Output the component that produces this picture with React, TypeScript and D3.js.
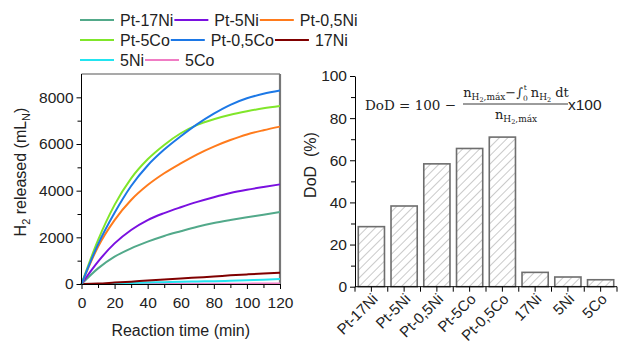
import React, { useEffect, useRef } from 'react';
import * as d3 from 'd3';

// Left panel: H2 released vs reaction time
const times = [0, 10, 20, 30, 40, 50, 60, 70, 80, 90, 100, 110, 120];
const seriesNames = ['Pt-17Ni', 'Pt-5Ni', 'Pt-0,5Ni', 'Pt-5Co', 'Pt-0,5Co', '17Ni', '5Ni', '5Co'];
const seriesColors = ['#52a98a', '#7a10e0', '#ff7b1c', '#80e62a', '#1c78e6', '#800000', '#22e4f0', '#f07cc4'];
const pt17Ni = [0, 670, 1170, 1530, 1815, 2060, 2260, 2450, 2610, 2740, 2860, 2970, 3090];
const pt5Ni = [0, 960, 1740, 2315, 2740, 3040, 3290, 3520, 3720, 3900, 4040, 4160, 4270];
const pt05Ni = [0, 1600, 2740, 3600, 4240, 4745, 5170, 5560, 5890, 6170, 6410, 6590, 6745];
const pt5Co = [0, 1880, 3390, 4530, 5345, 5960, 6460, 6820, 7060, 7250, 7400, 7530, 7630];
const pt05Co = [0, 1700, 3050, 4200, 5080, 5760, 6330, 6850, 7300, 7680, 7960, 8150, 8290];
const ni17 = [0, 20, 60, 100, 150, 190, 240, 280, 320, 370, 410, 450, 485];
const ni5 = [0, 0, 10, 40, 60, 80, 100, 110, 120, 140, 160, 180, 210];
const co5 = [0, 0, 0, 0, 5, 5, 10, 10, 10, 15, 15, 20, 25];
const seriesValues = [pt17Ni, pt5Ni, pt05Ni, pt5Co, pt05Co, ni17, ni5, co5];
const legendRows = [[0, 1, 2], [3, 4, 5], [6, 7]];

// Right panel: depth of discharge
const dodCategories = ['Pt-17Ni', 'Pt-5Ni', 'Pt-0,5Ni', 'Pt-5Co', 'Pt-0,5Co', '17Ni', '5Ni', '5Co'];
const dodValues = [28.5, 38.3, 58.3, 65.6, 71.0, 6.8, 4.6, 3.3];

const FONT = 'Liberation Sans, Arial, sans-serif';
const SERIF = 'DejaVu Serif, serif';

export default function App() {
  const svgRef = useRef<SVGSVGElement>(null);

  useEffect(() => {
    const svg = d3.select(svgRef.current);
    svg.selectAll('*').remove();

    // ---------- legend ----------
    const lg = svg.append('g');
    legendRows.forEach((row, ri) => {
      let cx = 80;
      const cy = 20 + ri * 20;
      row.forEach(i => {
        lg.append('line').attr('x1', cx).attr('x2', cx + 34).attr('y1', cy).attr('y2', cy)
          .attr('stroke', seriesColors[i]).attr('stroke-width', 2);
        const t = lg.append('text').attr('x', cx + 40).attr('y', cy + 5.5)
          .attr('font-family', FONT).attr('font-size', 16).attr('fill', '#222').text(seriesNames[i]);
        cx = cx + 40 + (t.node() as SVGTextElement).getComputedTextLength() + 1;
      });
    });

    // ---------- left plot ----------
    const L = { left: 81.5, right: 280, top: 74, bottom: 284 };
    const x = d3.scaleLinear().domain([0, 120]).range([L.left, L.right]);
    const y = d3.scaleLinear().domain([0, 9000]).range([L.bottom, L.top]);

    const gl = svg.append('g');
    // frame (top/right grey)
    gl.append('line').attr('x1', L.left).attr('x2', L.right).attr('y1', L.top).attr('y2', L.top)
      .attr('stroke', '#555').attr('stroke-width', 1.2);
    gl.append('line').attr('x1', L.right).attr('x2', L.right).attr('y1', L.top).attr('y2', L.bottom)
      .attr('stroke', '#777').attr('stroke-width', 2.2);

    const line = d3.line<number>().x((d, i) => x(times[i])).y(d => y(d)).curve(d3.curveMonotoneX);
    const order = [7, 6, 5, 0, 1, 2, 3, 4];
    order.forEach(i => {
      gl.append('path').datum(seriesValues[i]).attr('fill', 'none')
        .attr('stroke', seriesColors[i]).attr('stroke-width', 2).attr('d', line);
    });

    // axes
    const xAxis = gl.append('g').attr('transform', `translate(0,${L.bottom})`)
      .call(d3.axisBottom(x).tickValues(d3.range(0, 121, 20)).tickSize(5).tickSizeOuter(0));
    gl.append('g').attr('transform', `translate(0,${L.bottom})`)
      .call(d3.axisBottom(x).tickValues(d3.range(10, 120, 20)).tickSize(4).tickFormat(() => '').tickSizeOuter(0))
      .select('.domain').remove();
    const yAxis = gl.append('g').attr('transform', `translate(${L.left},0)`)
      .call(d3.axisLeft(y).tickValues(d3.range(0, 8001, 2000)).tickFormat(d3.format('d')).tickSize(5).tickSizeOuter(0));
    gl.append('g').attr('transform', `translate(${L.left},0)`)
      .call(d3.axisLeft(y).tickValues(d3.range(1000, 9000, 2000)).tickSize(4).tickFormat(() => '').tickSizeOuter(0))
      .select('.domain').remove();
    yAxis.select('.domain').attr('d', `M0,${L.bottom}V${L.top}`);
    [xAxis, yAxis].forEach(a => a.selectAll('text').attr('font-family', FONT).attr('font-size', 15.5).attr('fill', '#222'));
    xAxis.selectAll('text').attr('dy', '1.05em');

    gl.append('text').attr('x', (L.left + L.right) / 2).attr('y', 336).attr('text-anchor', 'middle')
      .attr('font-family', FONT).attr('font-size', 16).attr('fill', '#222').text('Reaction time (min)');

    const yl = gl.append('text').attr('transform', 'translate(26,172) rotate(-90)').attr('text-anchor', 'middle')
      .attr('font-family', FONT).attr('font-size', 16).attr('fill', '#222');
    yl.append('tspan').text('H');
    yl.append('tspan').attr('font-size', 11).attr('dy', 4).text('2');
    yl.append('tspan').attr('dy', -4).text(' released (mL');
    yl.append('tspan').attr('font-size', 11).attr('dy', 4).text('N');
    yl.append('tspan').attr('dy', -4).text(')');

    // ---------- right plot ----------
    const R = { left: 355, right: 617, top: 76, bottom: 286.7 };
    const xb = d3.scaleBand().domain(dodCategories).range([R.left, R.right]).paddingInner(0.2).paddingOuter(0.1);
    const yb = d3.scaleLinear().domain([0, 100]).range([R.bottom, R.top]);

    const defs = svg.append('defs');
    const pat = defs.append('pattern').attr('id', 'hatch').attr('patternUnits', 'userSpaceOnUse')
      .attr('width', 6).attr('height', 6).attr('patternTransform', 'rotate(45)');
    pat.append('rect').attr('width', 6).attr('height', 6).attr('fill', '#fff');
    pat.append('line').attr('x1', 0).attr('x2', 0).attr('y1', 0).attr('y2', 6)
      .attr('stroke', '#8a8a8a').attr('stroke-width', 0.9);

    const gr = svg.append('g');
    gr.selectAll('rect.bar').data(dodValues).join('rect').attr('class', 'bar')
      .attr('x', (d, i) => xb(dodCategories[i])!).attr('width', xb.bandwidth())
      .attr('y', d => yb(d)).attr('height', d => yb(0) - yb(d))
      .attr('fill', 'url(#hatch)').attr('stroke', '#6e6e6e').attr('stroke-width', 1.6);

    const yr = gr.append('g').attr('transform', `translate(${R.left},0)`)
      .call(d3.axisLeft(yb).tickValues(d3.range(0, 101, 20)).tickSize(5).tickSizeOuter(0));
    gr.append('g').attr('transform', `translate(${R.left},0)`)
      .call(d3.axisLeft(yb).tickValues(d3.range(10, 100, 20)).tickSize(4).tickFormat(() => '').tickSizeOuter(0))
      .select('.domain').remove();
    yr.selectAll('text').attr('font-family', FONT).attr('font-size', 15.5).attr('fill', '#222');

    // x axis: ticks at band edges and centres
    const half = xb.step() / 2;
    const tickPos = d3.range(0, dodCategories.length * 2 + 1).map(k => R.left + k * half);
    const xr = gr.append('g');
    xr.append('line').attr('x1', R.left).attr('x2', R.right).attr('y1', R.bottom).attr('y2', R.bottom)
      .attr('stroke', '#000');
    xr.selectAll('line.tk').data(tickPos).join('line').attr('class', 'tk')
      .attr('x1', d => d).attr('x2', d => d).attr('y1', R.bottom).attr('y2', R.bottom + 5).attr('stroke', '#000');
    xr.selectAll('text.cat').data(dodCategories).join('text').attr('class', 'cat')
      .attr('transform', d => `translate(${xb(d)! + xb.bandwidth() / 2 + 2},${R.bottom + 8}) rotate(-45)`)
      .attr('text-anchor', 'end').attr('dy', '0.5em')
      .attr('font-family', FONT).attr('font-size', 15).attr('fill', '#222').text(d => d);

    gr.append('text').attr('transform', 'translate(316,165) rotate(-90)').attr('text-anchor', 'middle')
      .attr('font-family', FONT).attr('font-size', 16).attr('fill', '#222').attr('xml:space', 'preserve')
      .text('DoD  (%)');

    // formula
    const fm = gr.append('g').attr('font-family', SERIF).attr('fill', '#222');
    fm.append('text').attr('x', 365).attr('y', 110).attr('font-size', 13.5).text('DoD = 100 −');
    const num = fm.append('text').attr('x', 516).attr('y', 97).attr('text-anchor', 'middle').attr('font-size', 13);
    num.append('tspan').text('n');
    num.append('tspan').attr('font-size', 9).attr('dy', 3).text('H');
    num.append('tspan').attr('font-size', 6.5).attr('dy', 2).text('2');
    num.append('tspan').attr('font-size', 9).attr('dy', -2).text(',máx');
    num.append('tspan').attr('dy', -3).text('−∫');
    num.append('tspan').attr('font-size', 7.5).attr('dy', 3.5).text('0');
    num.append('tspan').attr('font-size', 7.5).attr('dx', -4.2).attr('dy', -10.5).text('t');
    num.append('tspan').attr('dy', 7).text(' n');
    num.append('tspan').attr('font-size', 9).attr('dy', 3).text('H');
    num.append('tspan').attr('font-size', 6.5).attr('dy', 2).text('2');
    num.append('tspan').attr('dy', -5).text(' dt');
    fm.append('line').attr('x1', 463).attr('x2', 568).attr('y1', 104).attr('y2', 104)
      .attr('stroke', '#222').attr('stroke-width', 0.9);
    const den = fm.append('text').attr('x', 516).attr('y', 119).attr('text-anchor', 'middle').attr('font-size', 13);
    den.append('tspan').text('n');
    den.append('tspan').attr('font-size', 9).attr('dy', 3).text('H');
    den.append('tspan').attr('font-size', 6.5).attr('dy', 2).text('2');
    den.append('tspan').attr('font-size', 9).attr('dy', -2).text(',máx');
    fm.append('text').attr('x', 568).attr('y', 110).attr('font-family', FONT).attr('font-size', 15.5).text('x100');
  }, []);

  return (
    <div style={{ position: 'absolute', left: 0, top: 0, width: 626, height: 350, background: '#fff' }}>
      <svg ref={svgRef} width={626} height={350} style={{ display: 'block' }} />
    </div>
  );
}
